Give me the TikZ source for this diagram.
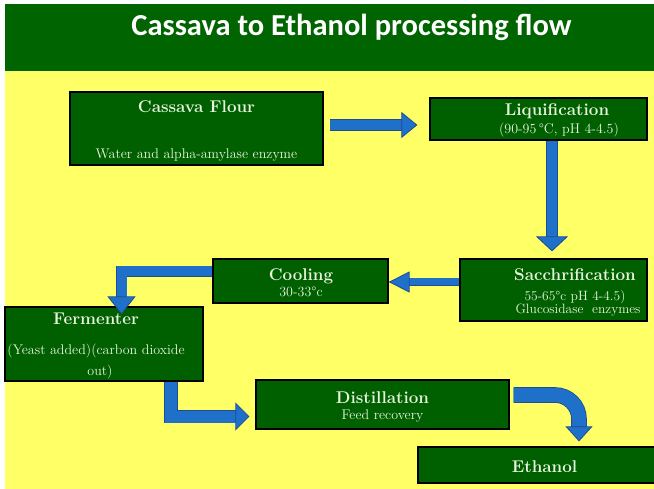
\documentclass[tikz,border=0pt]{standalone}
\usepackage{fontspec}
\newfontfamily\titlefont{Carlito}
\usetikzlibrary{arrows.meta, positioning}

\definecolor{slideyellow}{RGB}{255,255,102}
\definecolor{titlegreen}{RGB}{0,100,0}
\definecolor{boxgreen}{RGB}{0,96,0}
\definecolor{boxtext}{RGB}{232,245,222}
\definecolor{arrowblue}{RGB}{31,112,200}
\definecolor{arrowedge}{RGB}{30,75,150}

\tikzset{
  box/.style={draw=black, line width=1.2pt, fill=boxgreen, inner sep=0pt},
  head/.style={text=boxtext, font=\fontsize{17}{20}\selectfont\bfseries, anchor=base, inner sep=0pt},
  note/.style={text=boxtext, font=\fontsize{14}{16}\selectfont, anchor=base, inner sep=0pt},
  blockarrow/.style n args={3}{draw=arrowblue, line width=#1,
    -{Triangle[width=#2,length=#3,line width=0.8pt,color=arrowedge,fill=arrowblue]},
    preaction={draw=arrowedge, line width=#1+1.6pt, arrows=-, shorten >=10pt}}
}

\begin{document}
\begin{tikzpicture}[x=1pt,y=-1pt]
	\useasboundingbox (0,0) rectangle (654,489);
	\fill[white] (0,0) rectangle (654,489);
	\fill[slideyellow] (5,4) rectangle (654,489);
	\fill[titlegreen] (5,4) rectangle (654,71);
	\node[white, anchor=base, inner sep=0pt, font=\titlefont\bfseries\fontsize{30.5}{34}\selectfont] (title) at (351.5,36) {Cassava to Ethanol processing flow};

	% process boxes
	\node[box, minimum width=253pt, minimum height=73pt] (flour) at (196.5,128.5) {};
	\node[box, minimum width=217pt, minimum height=42pt] (liq) at (538.5,119) {};
	\node[box, minimum width=187pt, minimum height=62pt] (sacch) at (553.5,290) {};
	\node[box, minimum width=175pt, minimum height=44pt] (cool) at (300.5,281) {};
	\node[box, minimum width=198pt, minimum height=74pt] (ferm) at (104,344) {};
	\node[box, minimum width=253pt, minimum height=49pt] (dist) at (382.5,404.5) {};
	\node[box, minimum width=238pt, minimum height=36pt] (eth) at (537,465) {};

	% texts
	\node[head] (flourHead) at (196.5,113) {Cassava Flour};
	\node[note] (flourNote) at (196.5,159) {Water and alpha-amylase enzyme};
	\node[head] (liqHead) at (557,116) {Liquification};
	\node[note] (liqNote) at (559,134) {(90-95\,°C, pH 4-4.5)};
	\node[head] (sacchHead) at (575,281) {Sacchrification};
	\node[note, font=\fontsize{13.5}{15}\selectfont] (sacchNoteA) at (575,301) {55-65°c pH 4-4.5)};
	\node[note, font=\fontsize{13.5}{15}\selectfont] (sacchNoteB) at (578,314) {Glucosidase\ \ enzymes};
	\node[head] (coolHead) at (301,281) {Cooling};
	\node[note] (coolNote) at (301,297) {30-33°c};
	\node[head] (fermHead) at (96,325) {Fermenter};
	\node[note] (fermNoteA) at (96,355) {(Yeast added)(carbon dioxide};
	\node[note] (fermNoteB) at (100,375) {out)};
	\node[head] (distHead) at (382.5,403) {Distillation};
	\node[note] (distNote) at (382.5,420) {Feed recovery};
	\node[head] (ethHead) at (544.5,472) {Ethanol};

	% flow arrows
	\draw[blockarrow={10pt}{26pt}{16pt}] ([xshift=6pt,yshift=3.5pt]flour.east) -- ([xshift=-12pt,yshift=-6pt]liq.west);
	\draw[blockarrow={10pt}{32pt}{15pt}] ([xshift=13.5pt]liq.south) -- ([xshift=-1.5pt,yshift=7pt]sacch.north);
	\draw[blockarrow={7pt}{21pt}{21pt}] ([yshift=8pt]sacch.west) -- ([yshift=-1pt]cool.east);
	\draw[blockarrow={10pt}{28pt}{18pt}] ([yshift=9.5pt]cool.west) -| ([xshift=17.5pt,yshift=-8pt]ferm.north);
	\draw[blockarrow={12pt}{28pt}{14pt}] ([xshift=67pt]ferm.south) |- ([xshift=-6pt,yshift=-12pt]dist.west);
	\draw[blockarrow={14pt}{27pt}{15pt}, rounded corners=24pt] ([xshift=4pt,yshift=9.5pt]dist.east) -| ([xshift=42pt,yshift=5pt]eth.north);
\end{tikzpicture}
\end{document}
